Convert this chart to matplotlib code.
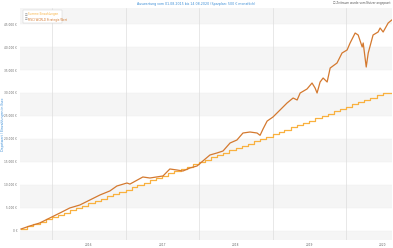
import matplotlib

matplotlib.use('Agg')
import matplotlib.pyplot as plt
import pandas as pd

# monthly deposits (cumulative, EUR)
deposit_dates = pd.date_range('2015-08-01', '2020-07-01', freq='MS')
deposit_sum = [500, 1000, 1500, 2000, 2500, 3000, 3500, 4000, 4500, 5000,
               5500, 6000, 6500, 7000, 7500, 8000, 8500, 9000, 9500, 10000,
               10500, 11000, 11500, 12000, 12500, 13000, 13500, 14000, 14500, 15000,
               15500, 16000, 16500, 17000, 17500, 18000, 18500, 19000, 19500, 20000,
               20500, 21000, 21500, 22000, 22500, 23000, 23500, 24000, 24500, 25000,
               25500, 26000, 26500, 27000, 27500, 28000, 28500, 29000, 29500, 30000]

# portfolio value (EUR)
value_dates = ['2015-08-01', '2015-09-14', '2015-11-02', '2015-12-22', '2016-02-10',
               '2016-03-30', '2016-05-19', '2016-07-08', '2016-08-27', '2016-10-15',
               '2016-11-19', '2017-01-08', '2017-01-23', '2017-03-28', '2017-05-02',
               '2017-07-06', '2017-08-09', '2017-09-13', '2017-10-13', '2017-11-17',
               '2017-12-22', '2018-01-20', '2018-02-24', '2018-03-31', '2018-04-30',
               '2018-06-04', '2018-07-08', '2018-08-07', '2018-09-11', '2018-10-16',
               '2018-10-31', '2018-11-15', '2018-12-05', '2019-01-03', '2019-02-07',
               '2019-03-14', '2019-04-13', '2019-05-03', '2019-05-18', '2019-06-21',
               '2019-07-16', '2019-07-31', '2019-08-10', '2019-08-25', '2019-09-09',
               '2019-09-29', '2019-10-14', '2019-11-17', '2019-12-12', '2020-01-06',
               '2020-01-21', '2020-02-15', '2020-03-01', '2020-03-21', '2020-03-26',
               '2020-04-10', '2020-04-20', '2020-05-14', '2020-06-08', '2020-06-18',
               '2020-07-03', '2020-07-28', '2020-08-15']
value = [430, 1090, 1740, 2830, 3910,
         5000, 5650, 6740, 7830, 8700,
         9780, 10430, 10200, 11740, 11520,
         11960, 13480, 13260, 13040, 13700,
         14130, 15220, 16520, 16960, 17390,
         19130, 19780, 21300, 21520, 21300,
         20800, 22200, 23900, 24780, 26300,
         27830, 28910, 28480, 30000, 30870,
         32170, 31090, 30000, 32390, 33260,
         32390, 35430, 36520, 38700, 39350,
         40870, 43040, 42610, 40000, 40870,
         35650, 38700, 42610, 43260, 44130,
         43260, 45220, 45870]

y_ticks = [0, 5000, 10000, 15000, 20000, 25000, 30000, 35000, 40000, 45000]
year_labels = ['2016', '2017', '2018', '2019', '2020']

c_value = '#d4792f'
c_deposit = '#f9b13f'
blue = '#3b8dd6'

fig = plt.figure(figsize=(3.93, 2.48), dpi=100)
ax = fig.add_axes([20 / 393, 8 / 248, 372 / 393, 232 / 248])

x0, x1 = pd.Timestamp('2015-07-27'), pd.Timestamp('2020-08-16')
ax.set_xlim(x0, x1)
ax.set_ylim(-1960, 48480)

# alternating bands
for lo in range(-5000, 50000, 10000):
    ax.axhspan(lo, lo + 5000, color='#f5f5f5', lw=0, zorder=0)
for t in y_ticks:
    ax.axhline(t, color='#ececec', lw=0.3, zorder=0.5)
for yr in year_labels:
    ax.axvline(pd.Timestamp(yr + '-01-01'), color='#dedede', lw=0.5, zorder=0.5)

d_x = list(deposit_dates) + [x1]
d_y = deposit_sum + [deposit_sum[-1]]
ax.plot(d_x, d_y, drawstyle='steps-post', color=c_deposit, lw=0.9, zorder=2)
ax.plot(pd.to_datetime(value_dates), value, color=c_value, lw=0.9, zorder=3)

ax.set_yticks(y_ticks)
ax.set_yticklabels([f'{t:,.0f} €'.replace(',', '.') for t in y_ticks])
ax.set_xticks([pd.Timestamp(yr + '-07-02') for yr in year_labels])
ax.set_xticklabels(year_labels)
ax.tick_params(length=0, labelsize=2.1, colors='#666666', pad=2)
for s in ax.spines.values():
    s.set_visible(False)

fig.text(0.5, 1 - 4 / 248, 'Auswertung vom 01.08.2015 bis 14.08.2020 (Sparplan: 500 € monatlich)',
         ha='center', va='center', fontsize=2.3, color=blue)
fig.text(3.5 / 393, 0.5, 'Depotwert / Einzahlungen in Euro', rotation=90,
         ha='center', va='center', fontsize=2.3, color=blue)
fig.text(1 - 2 / 393, 1 - 3 / 248, '☐ Zeitraum wurde vom Nutzer angepasst',
         ha='right', va='center', fontsize=2.0, color='#555555')

# legend box
box = plt.Rectangle((23 / 393, 1 - 23 / 248), 39 / 393, 13 / 248, transform=fig.transFigure,
                    facecolor='white', edgecolor='#cccccc', lw=0.3, zorder=1)
fig.add_artist(box)
fig.text(25 / 393, 1 - 14.5 / 248, '☑', fontsize=2.2, color='#777777', va='center', zorder=3)
fig.text(28 / 393, 1 - 14.5 / 248, 'Summe Einzahlungen', fontsize=2.0, color=c_deposit,
         va='center', zorder=3)
fig.text(25 / 393, 1 - 19.5 / 248, '☑', fontsize=2.2, color='#777777', va='center', zorder=3)
fig.text(28 / 393, 1 - 19.5 / 248, 'MSCI WORLD Strategie-Wert', fontsize=2.0, color=c_value,
         va='center', zorder=3)

fig.savefig('out.png', dpi=100)
